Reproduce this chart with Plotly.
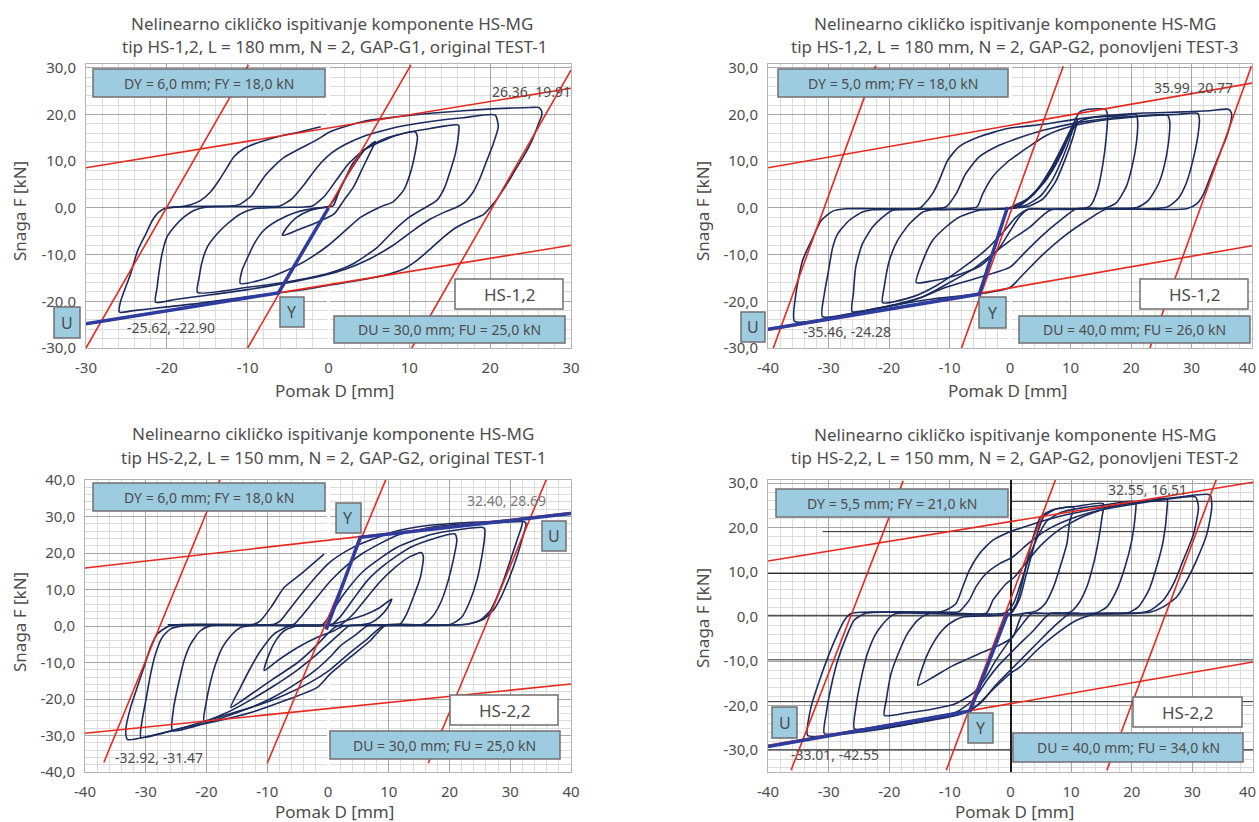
import plotly.graph_objects as go

W, H = 1259, 822
FONT = "Noto Sans"
TXT = "#4d4d4d"
NAVY = "#1c2b5e"
RED = "#e8281e"
BLUE = "#2e3c9e"
BOXBLUE = "#9dcbe0"
BOXLINE = "#707070"

# ---------------- tick labels ----------------
TICKS_30 = [-30, -20, -10, 0, 10, 20, 30]
TICKS_40 = [-40, -30, -20, -10, 0, 10, 20, 30, 40]
XTXT_30 = ["-30", "-20", "-10", "0", "10", "20", "30"]
XTXT_40 = ["-40", "-30", "-20", "-10", "0", "10", "20", "30", "40"]
# right-hand panels: last label is drawn separately so it stays inside the page
XTXT_40R = ["-40", "-30", "-20", "-10", "0", "10", "20", "30", ""]
YTXT_30 = ["-30,0", "-20,0", "-10,0", "0,0", "10,0", "20,0", "30,0"]
YTXT_40 = ["-40,0", "-30,0", "-20,0", "-10,0", "0,0", "10,0", "20,0", "30,0", "40,0"]

# ---------------- panel 1 : HS-1,2 GAP-G1 original TEST-1 ----------------
P1_A_X = [-20.0, -17.0, -12.0, -10.9, -9.6, -8.8, -7.8, -6.7, -5.5, -3.4, -1.4, 0.2, 4.3, 8.5, 12.6, 16.7, 20.8, 25.0, 26.0, 26.3, 26.4, 26.0, 25.2, 24.1, 23.1, 22.1, 21.0, 20.4, 19.2, 17.5, 15.9, 14.2, 12.6, 10.9, 9.3, 6.8, 3.5, 0.2, -3.4, -7.6, -11.7, -15.8, -20.0, -24.1, -25.7, -25.9, -25.7, -24.5, -23.6, -22.6, -21.8, -21.0, -20.0]
P1_A_Y = [0.0, 0.3, 0.4, 0.8, 2.5, 4.5, 7.0, 9.0, 10.8, 12.8, 14.6, 16.3, 18.5, 19.5, 20.25, 20.8, 21.25, 21.5, 21.5, 21.0, 19.9, 18.1, 14.5, 10.9, 8.1, 5.2, 2.3, 0.9, -1.4, -2.7, -4.1, -6.3, -8.8, -11.3, -13.1, -14.5, -15.6, -16.5, -17.6, -18.5, -19.4, -20.4, -21.2, -22.0, -22.4, -22.2, -19.9, -14.2, -9.1, -5.6, -2.7, -0.9, 0.0]
P1_B_X = [-15.0, -8.0, -6.0, -4.5, -3.0, -1.5, 0.2, 2.0, 4.3, 8.5, 12.6, 16.7, 20.6, 21.0, 20.4, 19.6, 18.8, 17.9, 16.9, 15.9, 14.5, 12.5, 10.5, 8.0, 5.0, 2.0, 0.0, -5.0, -10.0, -15.0, -19.0, -21.4, -21.2, -21.0, -20.6, -20.0, -19.1, -17.9, -16.6, -15.0]
P1_B_Y = [0.2, 0.3, 0.4, 2.0, 5.0, 8.5, 11.5, 13.5, 15.3, 17.3, 18.5, 19.3, 19.9, 17.4, 13.8, 10.2, 6.6, 3.4, 1.3, 0.2, -0.8, -2.5, -4.8, -8.0, -11.0, -13.2, -14.2, -16.0, -17.5, -18.7, -19.6, -20.2, -17.0, -14.2, -9.9, -6.3, -4.1, -2.0, -0.5, 0.2]
P1_C_X = [-9.2, -3.0, -2.0, -0.5, 1.0, 2.5, 4.5, 8.5, 12.6, 16.1, 16.1, 15.7, 15.1, 14.4, 13.4, 12.2, 10.0, 8.0, 6.0, 3.0, 0.0, -5.0, -10.0, -16.2, -16.0, -15.6, -15.0, -13.8, -12.5, -10.9, -9.2]
P1_C_Y = [-0.2, 0.2, 0.4, 2.5, 6.0, 9.5, 12.5, 15.6, 17.0, 17.7, 16.0, 11.6, 8.1, 4.5, 1.6, 0.3, -2.0, -5.0, -8.5, -12.0, -14.0, -15.8, -17.0, -18.1, -14.9, -11.3, -8.4, -5.6, -3.4, -1.3, -0.2]
P1_D_X = [-1.4, 0.0, 1.0, 2.0, 3.0, 4.5, 6.5, 8.5, 10.7, 11.0, 10.7, 10.1, 9.3, 8.0, 6.4, 4.0, 2.0, 0.0, -3.0, -6.0, -8.5, -10.9, -10.7, -10.0, -9.2, -8.0, -6.3, -3.9, -1.4]
P1_D_Y = [0.0, 0.3, 2.5, 6.0, 9.5, 12.5, 14.5, 15.6, 16.3, 15.2, 11.6, 7.3, 3.8, 1.3, 0.2, -2.0, -5.0, -8.0, -11.5, -14.0, -15.5, -16.2, -13.4, -10.6, -7.7, -4.8, -2.7, -0.9, 0.0]
P1_E_X = [-0.1, 0.6, 1.5, 3.0, 4.5, 5.8, 5.4, 4.3, 3.1, 1.9, 0.7, -1.4, -3.9, -5.7, -5.1, -3.9, -2.2, -0.1]
P1_E_Y = [0.2, 0.5, 4.5, 8.8, 12.5, 14.2, 12.7, 8.8, 4.5, 1.6, -1.3, -3.1, -4.8, -5.9, -4.1, -2.0, -0.5, 0.2]
P1_F_X = [-20.0, -18.7, -17.05, -15.8, -14.6, -13.54, -12.5, -11.7, -10.45, -8.4, -5.9, -3.44, -0.96]
P1_F_Y = [0.0, 0.18, 0.68, 1.6, 3.4, 5.9, 8.78, 10.93, 12.72, 14.16, 15.4, 16.3, 17.38]
P1_RED = [([-30, 30], [8.6, 25.6]), ([-30, 30], [-24.9, -8.0]),
          ([-30.2, -9.9], [-30.6, 30.6]), ([-10.2, 10.2], [-30.6, 30.6]), ([10.3, 30.0], [-30.0, 29.5])]
P1_BOLD_X = [-30.0, -6.2, 0.0]
P1_BOLD_Y = [-24.8, -18.2, 0.0]

# ---------------- panel 2 : HS-1,2 GAP-G2 ponovljeni TEST-3 ----------------
P2_A_X = [-27.1, -20.0, -15.0, -14.4, -12.8, -11.7, -10.3, -8.4, -5.1, -0.4, 5.5, 11.0, 16.5, 22.0, 27.5, 33.0, 36.1, 36.6, 36.6, 35.8, 34.2, 33.1, 32.0, 30.9, 29.2, 22.0, 16.0, 12.7, 9.4, 5.5, 2.2, 0.0, -5.0, -12.8, -18.3, -23.8, -29.3, -35.6, -35.4, -34.3, -32.6, -31.2, -29.3, -27.1]
P2_A_Y = [-0.2, -0.2, -0.1, 0.5, 3.05, 5.9, 10.2, 13.1, 15.2, 17.0, 17.9, 19.0, 19.8, 20.3, 20.5, 20.8, 21.1, 20.3, 19.2, 15.2, 10.2, 6.6, 3.0, 0.9, -0.2, -0.3, -0.2, -2.7, -5.6, -9.9, -14.2, -17.05, -18.4, -19.5, -20.6, -22.0, -23.5, -24.3, -18.5, -11.3, -6.4, -2.7, -0.7, -0.2]
P2_B_X = [-22.7, -15.0, -10.6, -8.9, -7.3, -5.1, -1.8, 0.4, 5.5, 11.0, 16.5, 22.0, 27.5, 31.0, 31.3, 31.0, 30.2, 29.2, 27.8, 26.0, 18.0, 11.0, 8.3, 5.0, 2.2, 0.0, -5.1, -10.6, -15.0, -20.0, -25.0, -31.0, -30.7, -30.1, -29.3, -28.5, -26.6, -24.4, -22.7]
P2_B_Y = [-0.4, -0.3, 0.2, 3.05, 7.35, 10.9, 13.4, 14.5, 16.6, 18.2, 19.2, 19.7, 20.0, 20.25, 19.0, 15.0, 10.0, 5.5, 2.0, 0.2, -0.3, -0.2, -2.7, -6.3, -9.9, -12.7, -14.9, -17.0, -19.3, -21.0, -22.3, -23.3, -18.5, -14.2, -8.4, -5.6, -2.7, -0.9, -0.4]
P2_C_X = [-19.4, -10.0, -5.5, -4.5, -2.9, -0.7, 0.7, 3.0, 6.0, 10.0, 15.0, 20.0, 26.0, 26.4, 26.2, 25.5, 24.5, 22.8, 21.0, 12.0, 6.6, 3.3, 0.0, -3.0, -6.0, -10.0, -14.0, -18.0, -22.0, -26.1, -25.9, -25.5, -24.4, -22.7, -21.05, -19.4]
P2_C_Y = [-0.5, -0.3, 0.2, 3.05, 6.6, 9.5, 10.9, 13.0, 15.5, 17.4, 18.7, 19.4, 19.9, 18.5, 14.0, 9.0, 5.0, 1.5, 0.1, -0.2, -0.5, -4.1, -7.0, -10.0, -13.0, -16.0, -18.8, -20.5, -21.5, -22.2, -18.5, -12.7, -7.7, -4.1, -2.0, -0.5]
P2_D_X = [-12.8, -5.0, 0.0, 3.0, 6.0, 8.5, 10.0, 11.5, 14.0, 18.0, 20.9, 21.1, 20.9, 20.2, 19.2, 17.5, 15.5, 8.0, 3.0, 1.0, -1.0, -4.0, -8.0, -12.0, -16.0, -21.05, -20.8, -19.95, -18.6, -16.6, -14.4, -12.8]
P2_D_Y = [-0.4, -0.3, 0.0, 2.0, 6.0, 12.0, 16.0, 18.5, 19.4, 19.7, 19.9, 18.5, 14.0, 9.0, 4.5, 1.0, -0.1, -0.3, -0.3, -2.0, -5.0, -9.0, -13.0, -16.5, -19.0, -20.3, -17.0, -11.3, -7.0, -3.4, -0.9, -0.4]
P2_E_X = [-5.1, -2.0, 1.0, 4.0, 7.0, 9.0, 10.5, 11.5, 13.0, 15.8, 16.1, 15.9, 15.3, 14.5, 13.3, 12.0, 6.0, 3.0, 1.5, 0.0, -2.0, -5.0, -9.5, -12.8, -15.5, -14.4, -12.8, -10.6, -8.4, -5.1]
P2_E_Y = [-0.5, -0.3, 0.0, 3.0, 8.0, 13.0, 18.0, 20.5, 21.1, 21.1, 20.0, 15.0, 9.0, 4.0, 0.5, -0.2, -0.3, -0.3, -2.0, -5.0, -9.0, -12.5, -14.7, -15.6, -16.0, -11.3, -7.0, -4.1, -2.0, -0.5]
P2_F_X = [0.0, 2.0, 4.5, 7.0, 9.0, 10.7, 10.2, 8.8, 7.0, 5.0, 2.5, 0.0]
P2_F_Y = [0.0, 1.0, 4.0, 9.0, 14.0, 18.5, 16.0, 11.0, 6.0, 2.5, 0.5, 0.0]
P2_G_X = [0.0, 3.0, 5.5, 8.0, 10.0, 11.2, 10.5, 9.0, 7.5, 5.5, 3.0, 0.0]
P2_G_Y = [0.0, 2.0, 5.5, 11.0, 16.0, 19.0, 15.5, 10.0, 5.5, 2.0, 0.3, 0.0]
P2_RED = [([-40, 40], [8.6, 26.7]), ([-40, 40], [-26.2, -8.1]),
          ([-39.2, -22.2], [-30.3, 30.4]), ([-8.1, 8.8], [-30.3, 30.3]), ([23.1, 39.9], [-30.1, 30.3])]
P2_BOLD_X = [-40.0, -5.07, -0.4]
P2_BOLD_Y = [-26.0, -18.46, 0.2]

# ---------------- panel 3 : HS-2,2 GAP-G2 original TEST-1 ----------------
P3_A_X = [-24.2, -15.0, -8.9, -7.8, -6.1, -4.0, -2.0, 0.33, 3.0, 5.8, 11.3, 16.8, 22.3, 27.8, 31.3, 32.0, 31.1, 30.0, 28.9, 27.8, 26.7, 25.0, 22.3, 15.0, 9.5, 6.9, 3.6, 0.33, -1.75, -7.2, -12.7, -18.2, -23.7, -29.2, -33.0, -33.3, -32.5, -31.4, -30.3, -29.2, -28.1, -26.4, -24.2]
P3_A_Y = [0.4, 0.4, 0.5, 1.5, 5.1, 9.5, 13.5, 17.5, 20.5, 22.8, 26.0, 27.6, 28.3, 28.7, 28.9, 28.5, 23.4, 17.9, 12.5, 7.9, 4.2, 1.5, 0.4, 0.3, 0.2, -4.1, -8.6, -13.2, -16.8, -20.5, -23.7, -26.0, -27.8, -30.1, -31.1, -28.7, -22.3, -16.8, -11.3, -5.8, -2.2, -0.2, 0.4]
P3_B_X = [-23.7, -13.0, -5.6, -4.5, -2.3, 0.44, 3.0, 5.8, 11.3, 16.8, 22.3, 27.8, 32.3, 32.6, 32.0, 31.0, 29.8, 28.5, 27.3, 25.7, 23.0, 15.0, 9.1, 6.5, 3.5, 0.33, -3.0, -8.0, -13.0, -18.0, -23.7, -27.0, -30.8, -30.6, -30.0, -29.2, -28.4, -27.3, -25.9, -23.7]
P3_B_Y = [0.1, 0.3, 0.5, 2.4, 6.9, 12.4, 16.5, 20.0, 24.8, 27.0, 27.9, 28.3, 28.6, 28.0, 24.0, 18.5, 13.0, 8.0, 4.5, 2.0, 0.5, 0.3, 0.1, -3.5, -7.5, -12.0, -15.5, -19.5, -22.5, -25.0, -27.8, -29.3, -30.5, -25.9, -20.5, -13.2, -7.7, -3.1, -0.8, 0.1]
P3_C_X = [-19.3, -9.0, -1.0, 0.33, 2.5, 5.8, 11.3, 16.8, 22.0, 25.5, 25.8, 25.8, 25.3, 24.5, 23.4, 22.0, 20.1, 12.0, 6.5, 4.5, 2.0, 0.33, -2.0, -5.0, -9.0, -13.0, -18.0, -22.0, -25.6, -25.4, -24.5, -23.7, -22.6, -21.0, -19.3]
P3_C_Y = [0.1, 0.2, 0.3, 3.0, 8.5, 15.0, 21.5, 25.0, 26.5, 27.0, 26.5, 24.7, 18.8, 12.5, 7.0, 2.4, 0.4, 0.2, 0.1, -2.5, -5.5, -8.5, -12.0, -15.5, -19.5, -22.5, -25.5, -27.5, -28.7, -22.3, -15.0, -9.5, -4.9, -1.3, 0.1]
P3_D_X = [-12.7, -4.0, 0.5, 2.0, 4.0, 6.5, 9.5, 13.5, 17.5, 20.9, 21.2, 20.6, 19.8, 18.7, 17.3, 15.7, 8.0, 3.5, 2.0, 0.33, -2.0, -5.0, -9.0, -13.0, -17.0, -20.4, -20.1, -19.3, -18.5, -17.4, -16.0, -14.4, -12.7]
P3_D_Y = [0.1, 0.2, 0.3, 2.5, 7.0, 12.5, 17.0, 21.5, 24.0, 25.2, 23.4, 17.9, 12.5, 7.0, 2.8, 0.5, 0.2, 0.1, -2.0, -4.5, -8.0, -12.0, -16.5, -20.5, -24.0, -26.0, -21.4, -15.0, -10.4, -5.9, -2.65, -0.4, 0.1]
P3_E_X = [-6.1, -1.0, 2.0, 4.0, 6.0, 8.5, 11.0, 13.5, 15.4, 15.7, 15.2, 14.05, 12.95, 11.85, 6.0, 1.5, 0.0, -2.0, -5.0, -9.0, -12.5, -16.0, -14.4, -12.7, -11.1, -8.9, -6.1]
P3_E_Y = [0.1, 0.2, 0.3, 3.0, 7.0, 12.0, 16.0, 19.0, 20.1, 18.8, 13.3, 7.9, 3.3, 0.5, 0.2, 0.0, -2.0, -5.5, -10.0, -14.5, -18.5, -22.3, -16.8, -11.3, -6.8, -2.2, 0.1]
P3_F_X = [-5.0, 0.0, 3.0, 6.0, 8.5, 10.5, 9.8, 8.5, 7.0, 5.0, 2.5, 0.99, -1.75, -5.0, -8.3, -10.5, -9.7, -8.6, -7.2, -5.0]
P3_F_Y = [0.1, 0.3, 1.5, 3.0, 5.0, 7.4, 5.0, 2.5, 0.8, 0.2, 0.0, -1.3, -3.1, -5.9, -9.5, -12.2, -7.7, -4.0, -1.3, 0.1]
P3_G_X = [-26.4, -18.0, -12.2, -11.1, -9.4, -7.2, -4.5, -0.65]
P3_G_Y = [0.3, 0.4, 0.5, 1.5, 5.1, 10.6, 14.2, 19.7]
P3_RED = [([-40, 40], [15.9, 31.1]), ([-40, 40], [-29.4, -15.9]),
          ([-36.9, -17.4], [-37.4, 41.6]), ([-10.0, 9.9], [-37.6, 41.6]), ([16.5, 36.3], [-37.6, 41.6])]
P3_BOLD_X = [-0.3, 5.3, 40.0]
P3_BOLD_Y = [-1.0, 24.3, 30.8]

# ---------------- panel 4 : HS-2,2 GAP-G2 ponovljeni TEST-2 ----------------
P4_A_X = [-24.4, -12.0, -10.9, -9.0, -7.9, -6.8, -5.1, -2.9, -0.73, 3.0, 8.0, 14.0, 20.0, 26.0, 32.4, 33.0, 33.2, 32.4, 30.7, 29.1, 27.4, 25.2, 23.0, 18.0, 14.2, 10.9, 7.6, 4.3, 1.6, -0.07, -3.0, -6.5, -12.0, -18.0, -24.0, -29.0, -33.45, -32.9, -31.5, -29.9, -28.5, -27.4, -26.3, -24.4]
P4_A_Y = [1.0, 1.0, 1.3, 2.9, 6.6, 10.4, 14.2, 17.2, 18.7, 20.5, 22.5, 24.2, 25.5, 26.6, 27.5, 27.2, 24.6, 18.6, 12.7, 8.2, 4.4, 2.2, 1.0, 0.8, 0.7, -0.8, -3.8, -7.6, -11.3, -12.8, -16.5, -21.0, -22.8, -24.5, -25.8, -26.5, -26.7, -20.3, -14.3, -8.3, -3.8, -0.8, 0.7, 1.0]
P4_B_X = [-23.8, -9.0, -8.4, -6.8, -5.7, -4.0, -1.8, 0.37, 3.0, 6.0, 10.0, 15.0, 20.0, 25.0, 30.5, 31.0, 30.2, 28.5, 26.9, 25.2, 23.0, 21.0, 12.0, 9.8, 7.1, 4.3, 1.6, -0.07, -2.5, -5.0, -8.0, -14.0, -20.0, -26.0, -30.7, -30.4, -29.6, -28.5, -27.1, -25.8, -23.8]
P4_B_Y = [0.8, 1.0, 1.2, 3.7, 6.7, 9.7, 11.9, 13.4, 16.5, 19.5, 22.0, 24.0, 25.2, 26.2, 26.9, 24.6, 18.6, 12.7, 7.4, 3.7, 1.4, 0.8, 0.7, 0.7, -2.3, -6.1, -9.8, -12.1, -15.5, -19.5, -21.8, -23.5, -24.8, -25.7, -26.3, -21.8, -15.8, -9.8, -4.6, -0.8, 0.8]
P4_C_X = [-18.9, -4.0, -2.9, -0.73, 0.65, 2.5, 5.0, 8.0, 12.0, 17.0, 22.0, 25.8, 25.8, 25.2, 24.1, 22.8, 21.1, 19.2, 10.0, 6.5, 3.8, 1.0, -0.07, -2.0, -4.0, -6.0, -9.0, -15.0, -21.0, -25.75, -25.5, -24.7, -23.6, -22.2, -20.5, -18.9]
P4_C_Y = [0.7, 0.8, 3.7, 7.4, 8.9, 12.0, 16.0, 19.5, 22.5, 24.8, 25.9, 26.5, 23.9, 17.1, 11.2, 5.9, 2.2, 0.8, 0.7, 0.7, -3.1, -6.8, -8.3, -11.0, -14.5, -18.5, -21.5, -23.2, -24.5, -25.2, -20.3, -14.3, -8.3, -3.8, -0.8, 0.7]
P4_D_X = [-13.4, -1.0, 0.5, 1.8, 3.0, 4.5, 6.0, 8.5, 12.0, 16.0, 20.6, 20.6, 20.0, 18.9, 17.5, 15.9, 14.0, 6.0, 3.5, 1.5, -0.5, -2.5, -4.0, -6.0, -9.0, -13.0, -17.0, -20.8, -20.5, -19.7, -18.3, -17.0, -15.3, -13.4]
P4_D_Y = [0.7, 0.8, 3.0, 8.0, 13.0, 18.0, 21.5, 23.5, 24.5, 25.2, 25.8, 23.1, 17.1, 11.2, 5.9, 2.2, 0.8, 0.7, 0.7, -2.5, -6.0, -10.0, -13.5, -17.0, -19.5, -20.8, -21.6, -22.2, -18.8, -12.8, -7.6, -3.8, -0.8, 0.7]
P4_E_X = [-7.9, 0.0, 1.5, 2.5, 3.5, 4.5, 5.5, 7.5, 11.0, 15.3, 15.1, 14.5, 13.7, 12.6, 11.2, 9.8, 4.0, 2.0, 0.37, -2.0, -5.1, -9.5, -12.8, -15.3, -14.5, -13.4, -11.7, -10.1, -7.9]
P4_E_Y = [-0.1, 0.7, 4.0, 9.0, 14.0, 19.0, 22.5, 24.2, 24.8, 25.4, 22.4, 17.1, 11.9, 6.7, 2.9, 1.0, 0.7, 0.6, -4.6, -6.5, -8.3, -11.0, -13.6, -15.4, -11.3, -7.6, -3.8, -1.6, -0.1]
P4_F_X = [0.0, 1.0, 2.0, 3.0, 4.0, 5.0, 7.0, 10.4, 9.8, 9.3, 8.2, 7.1, 5.7, 4.3, 2.0, 0.0]
P4_F_Y = [0.5, 3.0, 8.0, 14.0, 19.0, 22.5, 24.0, 24.6, 21.6, 16.4, 11.2, 6.7, 2.9, 1.3, 0.7, 0.5]
P4_RED = [([-40, 40], [12.5, 30.2]), ([-40, 40], [-28.9, -10.2]),
          ([-36.2, -17.7], [-34.5, 30.5]), ([-10.6, 7.6], [-34.5, 31.4]), ([15.9, 34.0], [-34.5, 31.0])]
P4_BOLD_X = [-40.0, -6.67, -0.4]
P4_BOLD_Y = [-29.2, -21.2, 1.0]
# dark overlay grid lines of panel 4 (level, x start, x end)
P4_DARK_LINES = [(25.9, 0, 40), (19.1, -31, 40), (9.7, -40, 40), (0.3, -40, 40),
                 (-9.7, -40, 40), (-19.1, -40, 40), (-29.9, -40, 40)]

# ---------------- panel configuration ----------------
PANELS = [
    dict(px=(86, 571), py=(64, 348), xr=[-30, 30], yr=[-30, 30.8],
         xt=(TICKS_30, XTXT_30), yt=(TICKS_30, YTXT_30),
         loops=[(P1_A_X, P1_A_Y), (P1_B_X, P1_B_Y), (P1_C_X, P1_C_Y), (P1_D_X, P1_D_Y),
                (P1_E_X, P1_E_Y), (P1_F_X, P1_F_Y)],
         red=P1_RED, bold=(P1_BOLD_X, P1_BOLD_Y), dark=False),
    dict(px=(768, 1252), py=(64, 348), xr=[-40, 40], yr=[-30, 30.8],
         xt=(TICKS_40, XTXT_40R), yt=(TICKS_30, YTXT_30),
         loops=[(P2_A_X, P2_A_Y), (P2_B_X, P2_B_Y), (P2_C_X, P2_C_Y), (P2_D_X, P2_D_Y),
                (P2_E_X, P2_E_Y), (P2_F_X, P2_F_Y), (P2_G_X, P2_G_Y)],
         red=P2_RED, bold=(P2_BOLD_X, P2_BOLD_Y), dark=False),
    dict(px=(85, 571), py=(480, 772), xr=[-40, 40], yr=[-40, 40],
         xt=(TICKS_40, XTXT_40), yt=(TICKS_40, YTXT_40),
         loops=[(P3_A_X, P3_A_Y), (P3_B_X, P3_B_Y), (P3_C_X, P3_C_Y), (P3_D_X, P3_D_Y),
                (P3_E_X, P3_E_Y), (P3_F_X, P3_F_Y), (P3_G_X, P3_G_Y)],
         red=P3_RED, bold=(P3_BOLD_X, P3_BOLD_Y), dark=False),
    dict(px=(768, 1253), py=(480, 772), xr=[-40, 40], yr=[-34.9, 30.7],
         xt=(TICKS_40, XTXT_40R), yt=(TICKS_30, YTXT_30),
         loops=[(P4_A_X, P4_A_Y), (P4_B_X, P4_B_Y), (P4_C_X, P4_C_Y), (P4_D_X, P4_D_Y),
                (P4_E_X, P4_E_Y), (P4_F_X, P4_F_Y)],
         red=P4_RED, bold=(P4_BOLD_X, P4_BOLD_Y), dark=True),
]


def fx(px):
    return px / W


def fy(py):
    return 1 - py / H


fig = go.Figure()
shapes = []
annotations = []

for i, p in enumerate(PANELS, start=1):
    s = "" if i == 1 else str(i)
    xa, ya = "x" + s, "y" + s
    for lx, ly in p["loops"]:
        fig.add_trace(go.Scatter(x=lx, y=ly, mode="lines", xaxis=xa, yaxis=ya,
                                 line=dict(color=NAVY, width=1.6, shape="spline", smoothing=0.6),
                                 hoverinfo="skip", showlegend=False))
    for rx, ry in p["red"]:
        fig.add_trace(go.Scatter(x=rx, y=ry, mode="lines", xaxis=xa, yaxis=ya,
                                 line=dict(color=RED, width=1.6), hoverinfo="skip", showlegend=False))
    bx, by = p["bold"]
    fig.add_trace(go.Scatter(x=bx, y=by, mode="lines", xaxis=xa, yaxis=ya,
                             line=dict(color=BLUE, width=3.5), hoverinfo="skip", showlegend=False))

    common = dict(showline=True, mirror=True, linecolor="#b4b4b4", linewidth=1,
                  ticks="outside", ticklen=6, tickcolor="rgba(0,0,0,0)",
                  tickfont=dict(family=FONT, size=15, color=TXT), automargin=False,
                  showgrid=True, gridwidth=1, tickmode="array", gridcolor="#a6a6a6")
    fig.layout["xaxis" + s] = dict(
        domain=[fx(p["px"][0]), fx(p["px"][1])], range=p["xr"], anchor=ya,
        tickvals=p["xt"][0], ticktext=p["xt"][1],
        zeroline=True, zerolinecolor="#1a1a1a" if p["dark"] else "#ffffff",
        zerolinewidth=1.5 if p["dark"] else 3,
        minor=dict(tickmode="linear", tick0=0, dtick=2, showgrid=True, gridcolor="#dcdcdc", gridwidth=1),
        **common)
    fig.layout["yaxis" + s] = dict(
        domain=[fy(p["py"][1]), fy(p["py"][0])], range=p["yr"], anchor=xa,
        tickvals=p["yt"][0], ticktext=p["yt"][1],
        zeroline=False,
        minor=dict(tickmode="linear", tick0=0, dtick=2, showgrid=True, gridcolor="#dcdcdc", gridwidth=1),
        **common)

for lvl, xs, xe in P4_DARK_LINES:
    shapes.append(dict(type="line", xref="x4", yref="y4", x0=xs, x1=xe, y0=lvl, y1=lvl,
                       line=dict(color="#2a2a2a", width=1), layer="between"))


def box(x0, y0, x1, y1, text, fill=BOXBLUE, size=14, color=TXT):
    shapes.append(dict(type="rect", xref="paper", yref="paper",
                       x0=fx(x0), x1=fx(x1), y0=fy(y1), y1=fy(y0),
                       fillcolor=fill, line=dict(color=BOXLINE, width=1.5), layer="above"))
    annotations.append(dict(xref="paper", yref="paper", x=fx((x0 + x1) / 2), y=fy((y0 + y1) / 2),
                            text=text, showarrow=False, xanchor="center", yanchor="middle",
                            font=dict(family=FONT, size=size, color=color)))


def label(x, y, text, size=14, color=TXT, angle=0, anchor="center"):
    annotations.append(dict(xref="paper", yref="paper", x=fx(x), y=fy(y), text=text,
                            showarrow=False, xanchor=anchor, yanchor="middle", textangle=angle,
                            font=dict(family=FONT, size=size, color=color)))


# panel 1 annotations
box(93, 69, 325, 97, "DY = 6,0 mm; FY = 18,0 kN")
box(455, 279, 563, 309, "HS-1,2", fill="#ffffff", size=17)
box(334, 316, 565, 343, "DU = 30,0 mm; FU = 25,0 kN")
box(54, 307, 80, 338, "U", size=16)
box(280, 297, 304, 327, "Y", size=16)
label(531, 92, "26.36, 19.91")
label(171, 328, "-25.62, -22.90")

# panel 2 annotations
box(778, 69, 1008, 97, "DY = 5,0 mm; FY = 18,0 kN")
box(1140, 279, 1248, 309, "HS-1,2", fill="#ffffff", size=17)
box(1019, 316, 1250, 343, "DU = 40,0 mm; FU = 26,0 kN")
box(741, 312, 765, 342, "U", size=16)
box(979, 297, 1006, 328, "Y", size=16)
label(1193, 87, "35.99, 20.77")
label(847, 332, "-35.46, -24.28")

# panel 3 annotations
box(93, 483, 325, 511, "DY = 6,0 mm; FY = 18,0 kN")
box(336, 503, 361, 533, "Y", size=16)
box(542, 521, 566, 551, "U", size=16)
box(450, 695, 558, 725, "HS-2,2", fill="#ffffff", size=17)
box(330, 731, 560, 759, "DU = 30,0 mm; FU = 25,0 kN")
label(506, 500, "32.40, 28.69", color="#7a7a7a")
label(159, 757, "-32.92, -31.47")

# panel 4 annotations
box(776, 489, 1008, 517, "DY = 5,5 mm; FY = 21,0 kN")
box(772, 707, 797, 738, "U", size=16)
box(968, 713, 993, 743, "Y", size=16)
box(1133, 697, 1242, 727, "HS-2,2", fill="#ffffff", size=17)
box(1013, 733, 1243, 762, "DU = 40,0 mm; FU = 34,0 kN")
label(1147, 489, "32.55, 16.51")
label(835, 754, "-33.01, -42.55")

# last x tick label of right-hand panels, kept inside the page
label(1258, 367, XTXT_40[-1], size=15, anchor="right")
label(1258, 791, XTXT_40[-1], size=15, anchor="right")

# titles
TITLE_L1 = "Nelinearno cikličko ispitivanje komponente HS-MG"
TS = 17
label(332, 23, TITLE_L1, size=TS)
label(334, 46, "tip HS-1,2, L = 180 mm, N = 2, GAP-G1, original TEST-1", size=TS)
label(1015, 23, TITLE_L1, size=TS)
label(1015, 46, "tip HS-1,2, L = 180 mm, N = 2, GAP-G2, ponovljeni TEST-3", size=TS)
label(333, 433, TITLE_L1, size=TS)
label(333, 457, "tip HS-2,2, L = 150 mm, N = 2, GAP-G2, original TEST-1", size=TS)
label(1015, 434, TITLE_L1, size=TS)
label(1015, 457, "tip HS-2,2, L = 150 mm, N = 2, GAP-G2, ponovljeni TEST-2", size=TS)

# axis titles
for cx, cy in [(334, 390), (1007, 390), (334, 811), (1014, 811)]:
    label(cx, cy, "Pomak D [mm]", size=17)
for cx, cy in [(19, 211), (702, 211), (19, 622), (702, 618)]:
    label(cx, cy, "Snaga F [kN]", size=17, angle=-90)

fig.update_layout(width=W, height=H, margin=dict(l=0, r=0, t=0, b=0, pad=0, autoexpand=False),
                  paper_bgcolor="white", plot_bgcolor="white", showlegend=False,
                  shapes=shapes, annotations=annotations,
                  font=dict(family=FONT, color=TXT))

fig.write_html("out.html", config={"displayModeBar": False},
               post_script="document.body.style.margin='0px';document.body.style.padding='0px';")
